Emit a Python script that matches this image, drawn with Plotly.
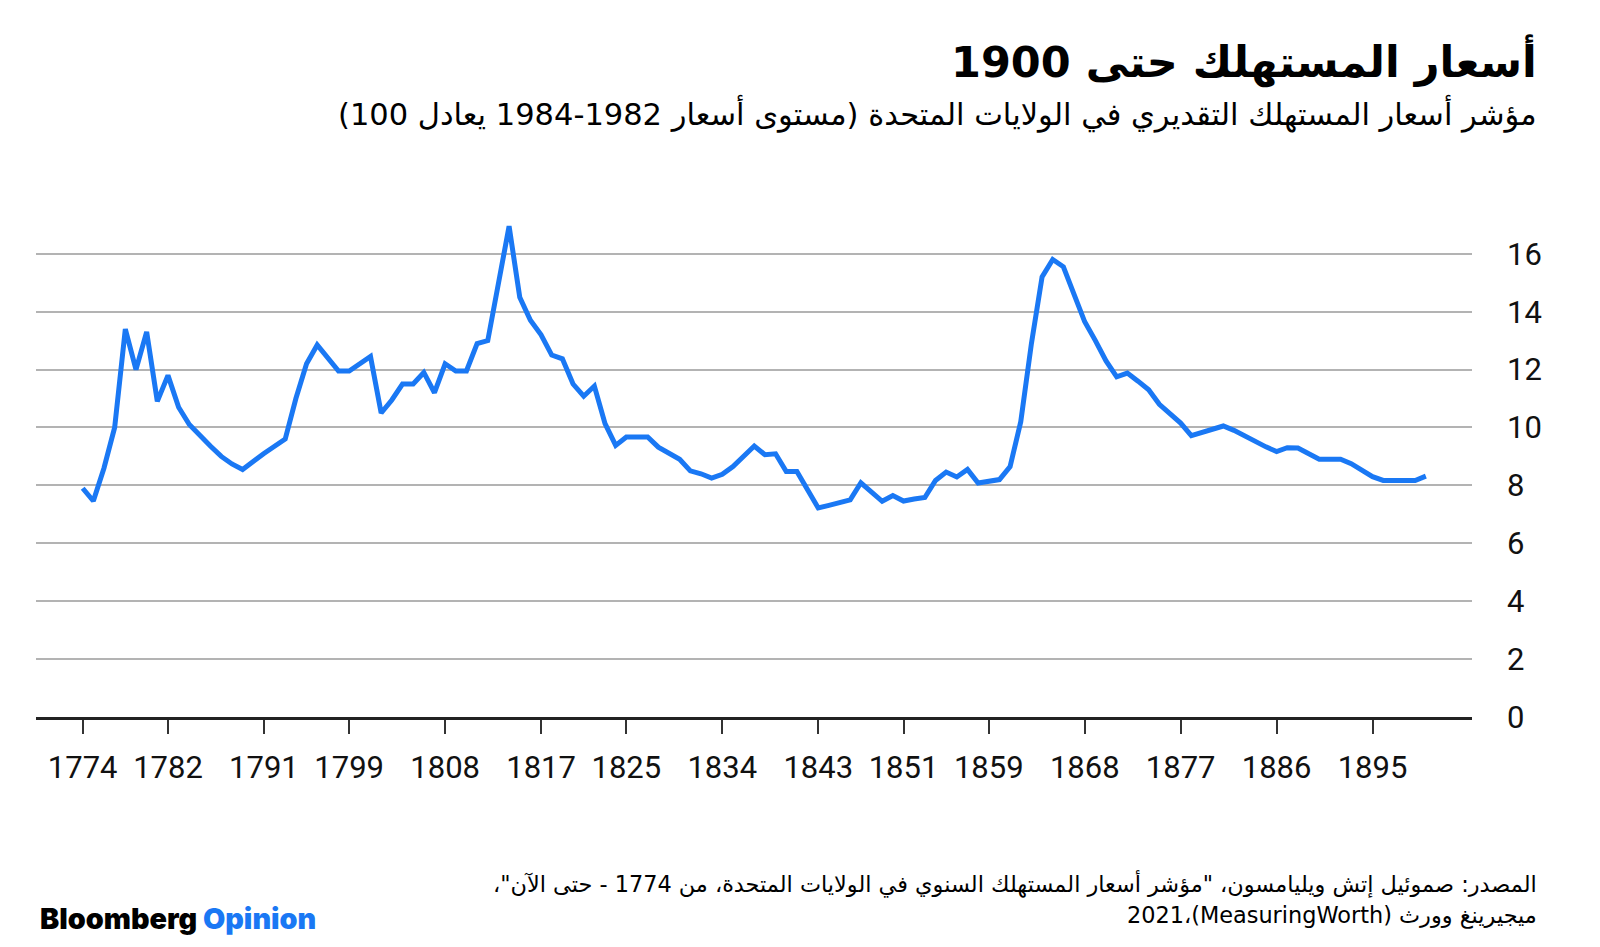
import plotly.graph_objects as go

# Estimated US consumer price index (1982-84 = 100)
years = list(range(1774, 1901))
cpi = [
    7.9, 7.46, 8.6, 10.0, 13.4, 12.0, 13.3, 10.9, 11.8, 10.7,          # 1774-1783
    10.1, 9.7, 9.35, 9.0, 8.74, 8.55, 8.85, 9.1, 9.35, 9.6,             # 1784-1793
    11.0, 12.2, 12.85, 12.4, 11.95, 11.95, 12.2, 12.45, 10.5, 10.95,    # 1794-1803
    11.5, 11.5, 11.9, 11.2, 12.2, 11.95, 11.95, 12.9, 13.0, 15.0,       # 1804-1813
    16.95, 14.5, 13.7, 13.2, 12.5, 12.37, 11.5, 11.08, 11.43, 10.13,    # 1814-1823
    9.38, 9.67, 9.67, 9.67, 9.32, 9.1, 8.9, 8.5, 8.4, 8.25,             # 1824-1833
    8.38, 8.65, 9.0, 9.36, 9.06, 9.09, 8.48, 8.48, 7.85, 7.22,          # 1834-1843
    7.31, 7.4, 7.5, 8.09, 7.77, 7.45, 7.65, 7.46, 7.53, 7.58,           # 1844-1853
    8.17, 8.46, 8.29, 8.55, 8.08, 8.14, 8.2, 8.65, 10.2, 12.9,          # 1854-1863
    15.2, 15.8, 15.55, 14.6, 13.65, 13.0, 12.3, 11.75, 11.88, 11.6,     # 1864-1873
    11.3, 10.8, 10.45, 10.15, 9.72, 9.83, 9.95, 10.05, 9.9, 9.7,        # 1874-1883
    9.5, 9.33, 9.17, 9.3, 9.29, 9.08, 8.9, 8.9, 8.9, 8.75,              # 1884-1893
    8.53, 8.3, 8.17, 8.17, 8.17, 8.17, 8.32,                            # 1894-1900
]
tick_years = [1774, 1782, 1791, 1799, 1808, 1817, 1825, 1834, 1843,
              1851, 1859, 1868, 1877, 1886, 1895]
y_ticks = [0, 2, 4, 6, 8, 10, 12, 14, 16]

title = "أسعار المستهلك حتى 1900"
subtitle = "مؤشر أسعار المستهلك التقديري في الولايات المتحدة (مستوى أسعار 1982-1984 يعادل 100)"
source_1 = 'المصدر: صموئيل إتش ويليامسون، "مؤشر أسعار المستهلك السنوي في الولايات المتحدة، من 1774 - حتى الآن"،'
source_2 = "ميجيرينغ وورث (MeasuringWorth)،2021"

RLE, PDF = "\u202b", "\u202c"
AR_FONT = "DejaVu Sans"
NUM_FONT = "Liberation Sans Narrow, Roboto, DejaVu Sans"
BLUE = "#1a78f4"

# the page body adds an 8px margin, so the figure is drawn 8px smaller
OFF = 8
W, H = 1600 - OFF, 947 - OFF
L, R, T, B = 36 - OFF, 128, 219 - OFF, 230


def px_x(x):
    return (x - OFF - L) / (W - L - R)


def px_y(y):
    return (H - B - (y - OFF)) / (H - T - B)


fig = go.Figure()
fig.add_trace(go.Scatter(x=years, y=cpi, mode="lines",
                         line=dict(color=BLUE, width=5),
                         hoverinfo="skip", showlegend=False))

fig.update_layout(
    width=W, height=H,
    margin=dict(l=L, r=R, t=T, b=B),
    paper_bgcolor="white", plot_bgcolor="white",
    showlegend=False,
)
fig.update_xaxes(
    range=[1769.62, 1904.33],
    tickvals=tick_years, ticktext=[str(t) for t in tick_years],
    ticks="outside", ticklen=14, tickwidth=1.5, tickcolor="#333333",
    showgrid=False, zeroline=False,
    showline=True, linecolor="#222222", linewidth=2.5,
    tickfont=dict(family=NUM_FONT, size=31, color="#111111"),
    ticklabelstandoff=7,
)
fig.update_yaxes(
    range=[0, 17.2], side="right",
    tickvals=y_ticks,
    ticks="", showgrid=True, gridcolor="#b3b3b3", gridwidth=2.2,
    zeroline=False, showline=False,
    tickfont=dict(family=NUM_FONT, size=31, color="#111111"),
    ticklabelstandoff=34,
)

# Title, subtitle
fig.add_annotation(xref="paper", yref="paper", x=px_x(1539), y=px_y(61),
                   xanchor="right", yanchor="middle", showarrow=False,
                   text="<b>" + RLE + title + PDF + "</b>",
                   font=dict(family=AR_FONT, size=43, color="#000000"))
fig.add_annotation(xref="paper", yref="paper", x=px_x(1539), y=px_y(113),
                   xanchor="right", yanchor="middle", showarrow=False,
                   text=RLE + subtitle + PDF,
                   font=dict(family=AR_FONT, size=30.5, color="#000000"))

# Source
fig.add_annotation(xref="paper", yref="paper", x=px_x(1539), y=px_y(884),
                   xanchor="right", yanchor="middle", showarrow=False,
                   text=RLE + source_1 + PDF,
                   font=dict(family=AR_FONT, size=22.4, color="#000000"))
fig.add_annotation(xref="paper", yref="paper", x=px_x(1539), y=px_y(915),
                   xanchor="right", yanchor="middle", showarrow=False,
                   text=RLE + source_2 + PDF,
                   font=dict(family=AR_FONT, size=22.4, color="#000000"))

# Logo
fig.add_annotation(xref="paper", yref="paper", x=px_x(38), y=px_y(918),
                   xanchor="left", yanchor="middle", showarrow=False,
                   text="Bloomberg <span style='color:%s'>Opinion</span>" % BLUE,
                   font=dict(family="Inter, Roboto, Arial", size=28.8,
                             weight=900, color="#000000"))

fig.write_html("out.html")
